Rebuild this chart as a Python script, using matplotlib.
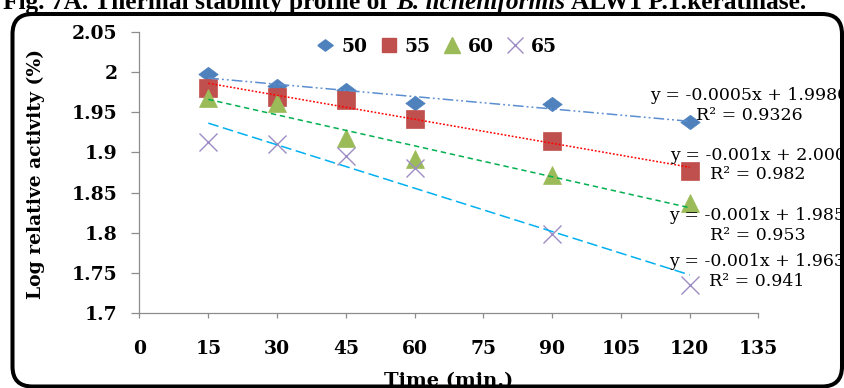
import numpy as np
import matplotlib
matplotlib.use("Agg")
import matplotlib.pyplot as plt
from matplotlib.patches import FancyBboxPatch
from matplotlib.transforms import IdentityTransform
from matplotlib.lines import Line2D

# ---- data: log relative keratinase activity vs incubation time ----
times = [15, 30, 45, 60, 90, 120]
act_50 = [1.997, 1.982, 1.978, 1.961, 1.960, 1.938]
act_55 = [1.980, 1.969, 1.965, 1.942, 1.914, 1.877]
act_60 = [1.968, 1.962, 1.918, 1.892, 1.872, 1.837]
act_65 = [1.913, 1.910, 1.895, 1.881, 1.799, 1.735]
temps = ["50", "55", "60", "65"]
eq_labels = ["y = -0.0005x + 1.9980\nR² = 0.9326",
             "y = -0.001x + 2.000\nR² = 0.982",
             "y = -0.001x + 1.985\nR² = 0.953",
             "y = -0.001x + 1.963\nR² = 0.941"]
x_ticks = [0, 15, 30, 45, 60, 75, 90, 105, 120, 135]
y_ticks = [1.7, 1.75, 1.8, 1.85, 1.9, 1.95, 2.0, 2.05]
y_tick_labels = ["1.7", "1.75", "1.8", "1.85", "1.9", "1.95", "2", "2.05"]

W, H = 845, 388
SERIF = "DejaVu Serif"

fig = plt.figure(figsize=(W / 100, H / 100), dpi=100)
fig.patch.set_facecolor("white")

# rounded chart-area border
border = FancyBboxPatch((12.5, H - 386.5), 829.5, 372.5,
                        boxstyle="round,pad=0,rounding_size=20",
                        transform=IdentityTransform(), fill=False,
                        edgecolor="black", linewidth=2.9, zorder=0)
fig.add_artist(border)

ax = fig.add_axes([139.5 / W, 1 - 313.3 / H, (758.5 - 139.5) / W, (313.3 - 31.7) / H])
ax.set_facecolor("none")

diamond = [(-1, 0), (0, 0.74), (1, 0), (0, -0.74), (-1, 0)]
series = [
    (act_50, diamond, 14.0, "#4F81BD", dict(color="#5B8ED0", dashes=(7, 2, 1.2, 2, 1.2, 2))),
    (act_55, "s", 13.0, "#C0504D", dict(color="#FF0000", dashes=(1.2, 1.2))),
    (act_60, "^", 13.5, "#9BBB59", dict(color="#00B050", dashes=(3.5, 2.5))),
    (act_65, "x", 13.5, "#9D8DC4", dict(color="#00B0F0", dashes=(7, 3))),
]

handles = []
for i, (vals, marker, ms, col, tstyle) in enumerate(series):
    if marker == "x":
        ax.plot(times, vals, ls="none", marker="x", ms=ms, mew=1.0,
                color=col, zorder=3 + i, clip_on=False)
        handles.append(Line2D([], [], ls="none", marker="x", ms=11, mew=1.0, color=col))
    else:
        ax.plot(times, vals, ls="none", marker=marker, ms=ms, mfc=col,
                mec=col, mew=0.5, zorder=3 + i, clip_on=False)
        hm = 11 if marker != "s" else 10.5
        handles.append(Line2D([], [], ls="none", marker=marker, ms=hm, mfc=col, mec=col))
    # linear trendline over the sampled time range
    coef = np.polyfit(times, vals, 1)
    xs = np.array([times[0], times[-1]], dtype=float)
    ax.plot(xs, np.polyval(coef, xs), lw=1.1, zorder=10, **tstyle)

ax.set_xlim(0, 135)
ax.set_ylim(1.7, 2.05)
ax.set_xticks(x_ticks)
ax.set_xticklabels([str(t) for t in x_ticks])
ax.set_yticks(y_ticks)
ax.set_yticklabels(y_tick_labels)
for s in ("top", "right"):
    ax.spines[s].set_visible(False)
for s in ("left", "bottom"):
    ax.spines[s].set_color("#8C8C8C")
    ax.spines[s].set_linewidth(0.9)
ax.tick_params(axis="y", direction="out", length=5.5, width=0.9, color="#8C8C8C", pad=10.5)
ax.tick_params(axis="x", direction="out", length=3.6, width=0.9, color="#8C8C8C", pad=15.5)
for lab in ax.get_xticklabels() + ax.get_yticklabels():
    lab.set_family(SERIF)
    lab.set_weight("bold")
    lab.set_fontsize(13.5)

# axis titles
fig.text(36 / W, 1 - 174 / H, "Log relative activity (%)", rotation=90,
         ha="center", va="center", family=SERIF, weight="bold", fontsize=13.5)
fig.text(449 / W, 1 - 381 / H, "Time (min.)", ha="center", va="center",
         family=SERIF, weight="bold", fontsize=14)

# legend
fig.legend(handles, temps, loc="center", bbox_to_anchor=(436.5 / W, 1 - 46.7 / H),
           ncol=4, frameon=False, handlelength=1.0, handletextpad=0.35,
           columnspacing=0.64, borderpad=0, borderaxespad=0,
           prop=dict(family=SERIF, weight="bold", size=13.5))

# trendline equations
eq_pos = [(749, 105.8), (758, 165), (757.5, 225.8), (757, 271.7)]
for (cx, cy), txt in zip(eq_pos, eq_labels):
    fig.text(cx / W, 1 - cy / H, txt, ha="center", va="center",
             multialignment="center", family=SERIF, fontsize=12.5,
             linespacing=1.2, zorder=20)

# figure caption (partly above the page)
CAP_FONT = "Liberation Serif"
parts = [("Fig. 7A. Thermal stability profile of ", "normal"),
         ("B. licheniformis", "italic"),
         (" ALW1 P.1.keratinase.", "normal")]
renderer = fig.canvas.get_renderer()
base_size = 15.0
widths = []
for txt, style in parts:
    t = fig.text(0, 0, txt, family=CAP_FONT, weight="bold", style=style, fontsize=base_size)
    widths.append(t.get_window_extent(renderer).width)
    t.remove()
scale = (807 - 3) / sum(widths)
size = base_size * scale
x = 3.0
for (txt, style), w in zip(parts, widths):
    fig.text(x / W, 1 - 9 / H, txt, family=CAP_FONT, weight="bold", style=style,
             fontsize=size, va="baseline", ha="left")
    x += w * scale

fig.savefig("out.png", dpi=100, facecolor="white")
